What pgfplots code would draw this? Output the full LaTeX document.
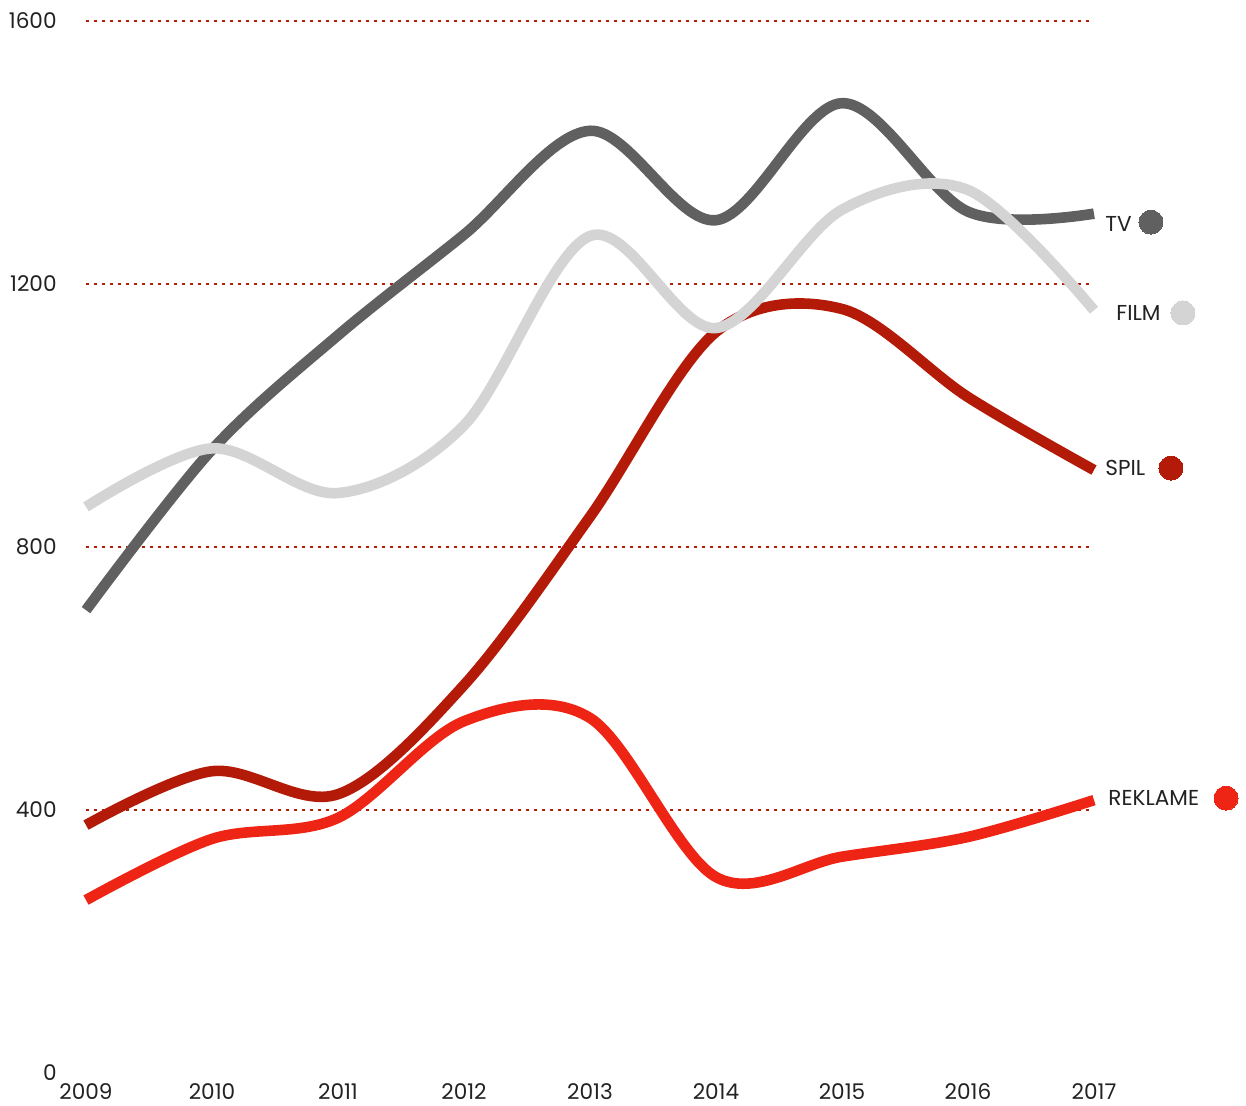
\documentclass[border=0pt]{standalone}
\usepackage{fontspec}
\setmainfont{Poppins}
\usepackage{pgfplots}
\pgfplotsset{compat=1.18}
\definecolor{tvc}{HTML}{606060}
\definecolor{filmc}{HTML}{D4D4D4}
\definecolor{spilc}{HTML}{B41A08}
\definecolor{reklc}{HTML}{EE2414}
\definecolor{gridc}{HTML}{B41A08}
\definecolor{textc}{HTML}{222222}
\begin{document}
\begin{tikzpicture}
\begin{axis}[
  scale only axis, width=504pt, height=526pt,
  xmin=2009, xmax=2017, ymin=0, ymax=1600,
  clip=false,
  axis line style={draw=none},
  major tick length=0pt,
  xtick={2009,2010,2011,2012,2013,2014,2015,2016,2017},
  ytick={400,800,1200,1600},
  extra y ticks={0},
  extra y tick style={grid=none},
  ymajorgrids,
  grid style={gridc, line width=1.3pt, dash pattern=on 1.3pt off 2.7pt},
  /pgf/number format/1000 sep={},
  /pgf/number format/assume math mode=true,
  tick label style={font=\fontsize{10.8}{12}\selectfont, text=textc},
  yticklabel style={anchor=east, inner sep=0pt, xshift=-14.5pt},
  xticklabel style={anchor=north, inner sep=0pt, yshift=-5pt},
]
\coordinate (O) at (rel axis cs:0,0);
\pgfplotsset{every axis plot/.append style={line width=5.3pt, smooth, tension=0.55, line cap=butt, line join=round}}
\addplot[tvc] coordinates {(2009,704) (2010,948) (2011,1122) (2012,1275) (2013,1433) (2014,1297) (2015,1475) (2016,1310) (2017,1307)};
\addplot[spilc] coordinates {(2009,377) (2010,459) (2011,424) (2012,590) (2013,846) (2014,1127) (2015,1162) (2016,1028) (2017,917)};
\addplot[reklc] coordinates {(2009,263) (2010,356) (2011,388) (2012,535) (2013,540) (2014,298) (2015,329) (2016,359) (2017,415)};
\addplot[filmc] coordinates {(2009,861) (2010,950) (2011,882) (2012,985) (2013,1273) (2014,1133) (2015,1313) (2016,1343) (2017,1160)};
\end{axis}
\begin{axis}[
  scale only axis, width=504pt, height=526pt,
  xmin=2009, xmax=2017, ymin=0, ymax=1600,
  clip=false, hide axis,
]
% end-of-line markers
\addplot[tvc, only marks, mark=*, mark size=6pt, line width=0pt, mark options={draw=tvc, fill=tvc, line width=0pt}] coordinates {(2017.452,1294)};
\addplot[filmc, only marks, mark=*, mark size=6pt, line width=0pt, mark options={draw=filmc, fill=filmc, line width=0pt}] coordinates {(2017.706,1156)};
\addplot[spilc, only marks, mark=*, mark size=6pt, line width=0pt, mark options={draw=spilc, fill=spilc, line width=0pt}] coordinates {(2017.611,920)};
\addplot[reklc, only marks, mark=*, mark size=6pt, line width=0pt, mark options={draw=reklc, fill=reklc, line width=0pt}] coordinates {(2018.048,418)};
\begin{scope}[every node/.style={anchor=west, inner sep=0pt, text=textc, font=\fontsize{10.8}{12}\selectfont}]
\node[xshift=5.5pt] at (axis cs:2017,1291) {TV};
\node[xshift=11pt] at (axis cs:2017,1156) {FILM};
\node[xshift=5.5pt] at (axis cs:2017,920) {SPIL};
\node[xshift=7pt] at (axis cs:2017,418) {REKLAME};
\end{scope}
\end{axis}
\path (O) ++(-43pt,-16.5pt) coordinate (BL);
\path (O) ++(580pt,536.5pt) coordinate (TR);
\end{tikzpicture}
\end{document}
